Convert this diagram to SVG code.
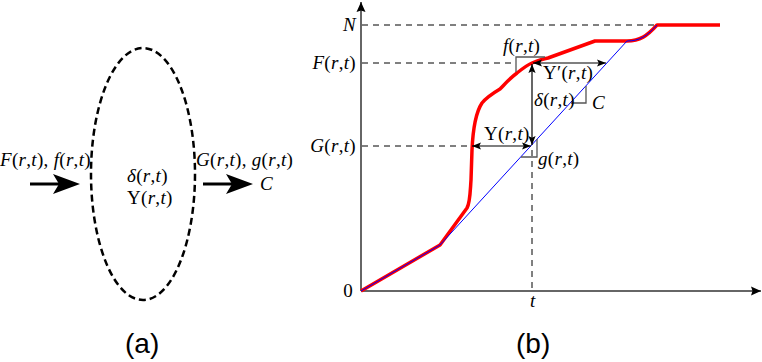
<svg xmlns="http://www.w3.org/2000/svg" width="762" height="362" viewBox="0 0 762 362">
<style>
.m{font-family:"Liberation Serif",serif;font-size:19px;fill:#000;letter-spacing:0.3px}
.i{font-style:italic}
.cap{font-family:"Liberation Sans",Arial,sans-serif;font-size:28px;fill:#000}
.dash{stroke:#000;stroke-width:1;stroke-dasharray:6,5;fill:none}
.axis{stroke:#666;stroke-width:2;fill:none}
.tri{stroke:#555;stroke-width:1.3;fill:none}
.dim{stroke:#000;stroke-width:1.2;fill:none;marker-start:url(#ah);marker-end:url(#ah)}
.big{stroke:#000;stroke-width:3;fill:none}
</style>
<defs>
<marker id="ah" viewBox="0 0 10 10" refX="10" refY="5" markerWidth="9" markerHeight="9" markerUnits="userSpaceOnUse" orient="auto-start-reverse">
<path d="M0,1 L10,5 L0,9 L2,5 Z" fill="#000"/>
</marker>
<marker id="axh" viewBox="0 0 10 10" refX="10" refY="5" markerWidth="10" markerHeight="10" markerUnits="userSpaceOnUse" orient="auto">
<path d="M0,0.5 L10,5 L0,9.5 L1.5,5 Z" fill="#000"/>
</marker>
</defs>

<!-- panel (a) -->
<g id="system">
<ellipse cx="143" cy="174" rx="52" ry="126" fill="none" stroke="#000" stroke-width="2.5" stroke-dasharray="7,4"/>
<text class="m" x="127" y="182"><tspan class="i">δ</tspan>(<tspan class="i">r</tspan>,<tspan class="i">t</tspan>)</text>
<text class="m" x="127" y="204">Υ(<tspan class="i">r</tspan>,<tspan class="i">t</tspan>)</text>
</g>
<g id="inflow">
<text class="m" x="0" y="166"><tspan class="i">F</tspan>(<tspan class="i">r</tspan>,<tspan class="i">t</tspan>), <tspan class="i">f</tspan>(<tspan class="i">r</tspan>,<tspan class="i">t</tspan>)</text>
</g>
<g id="outflow">
<text class="m" x="196" y="166"><tspan class="i">G</tspan>(<tspan class="i">r</tspan>,<tspan class="i">t</tspan>), <tspan class="i">g</tspan>(<tspan class="i">r</tspan>,<tspan class="i">t</tspan>)</text>
<text class="m i" x="260" y="190">C</text>
</g>
<g id="connectors-a">
<line class="big" x1="30" y1="184" x2="60" y2="184"/>
<path d="M80,184 L53,174 L59,184 L53,194 Z" fill="#000"/>
<line class="big" x1="203" y1="184" x2="233" y2="184"/>
<path d="M253,184 L226,174 L232,184 L226,194 Z" fill="#000"/>
</g>
<text class="cap" x="125" y="353">(a)</text>

<!-- panel (b) -->
<g id="axes">
<line class="axis" x1="361" y1="291" x2="361" y2="2" marker-end="url(#axh)"/>
<line class="axis" x1="361" y1="291" x2="761" y2="291" marker-end="url(#axh)"/>
<text class="m i" x="356" y="31" text-anchor="end">N</text>
<text class="m" x="356" y="69" text-anchor="end"><tspan class="i">F</tspan>(<tspan class="i">r</tspan>,<tspan class="i">t</tspan>)</text>
<text class="m" x="356" y="152" text-anchor="end"><tspan class="i">G</tspan>(<tspan class="i">r</tspan>,<tspan class="i">t</tspan>)</text>
<text class="m" x="353" y="297" text-anchor="end">0</text>
<text class="m i" x="530" y="307">t</text>
</g>
<g id="guides">
<line class="dash" x1="362" y1="25" x2="657" y2="25"/>
<line class="dash" x1="362" y1="63" x2="516" y2="63"/>
<line class="dash" x1="362" y1="146" x2="471" y2="146"/>
<line class="dash" x1="532" y1="150" x2="532" y2="291"/>
</g>
<g id="curve-F">
<path d="M361,291 L440,245 L467,208 C470,203 470,195 471,180 L472,150 C473,128 476,112 482,103 C486,98 495,92 500,89 C505,84 510,78 517,73 C522,69 527,65 532,63 C537,61 542,59 548,58 L595,41 L627,41 C640,41 647,36 657,25 L720,25" fill="none" stroke="#f00" stroke-width="3.5" stroke-linejoin="round"/>
</g>
<g id="curve-G">
<path d="M361,291 L440,245 L627,41 C640,41 647,36 657,25" fill="none" stroke="#00f" stroke-width="1"/>
</g>
<g id="slopes">
<polyline class="tri" points="545,57 516,57 516,72"/>
<polyline class="tri" points="571,103 586,103 586,86"/>
<polyline class="tri" points="521,157 537,157 537,139"/>
<text class="m" x="503" y="52"><tspan class="i">f</tspan>(<tspan class="i">r</tspan>,<tspan class="i">t</tspan>)</text>
<text class="m i" x="592" y="109">C</text>
<text class="m" x="538" y="165"><tspan class="i">g</tspan>(<tspan class="i">r</tspan>,<tspan class="i">t</tspan>)</text>
</g>
<g id="connectors">
<line class="dim" x1="472" y1="146" x2="531" y2="146"/>
<line class="dim" x1="532" y1="64" x2="532" y2="145"/>
<line class="dim" x1="533" y1="63" x2="606" y2="63"/>
<text class="m" x="484" y="140">Υ(<tspan class="i">r</tspan>,<tspan class="i">t</tspan>)</text>
<text class="m" x="534" y="106"><tspan class="i">δ</tspan>(<tspan class="i">r</tspan>,<tspan class="i">t</tspan>)</text>
<text class="m" x="543" y="79">Υ′(<tspan class="i">r</tspan>,<tspan class="i">t</tspan>)</text>
</g>
<text class="cap" x="516" y="353">(b)</text>
</svg>
